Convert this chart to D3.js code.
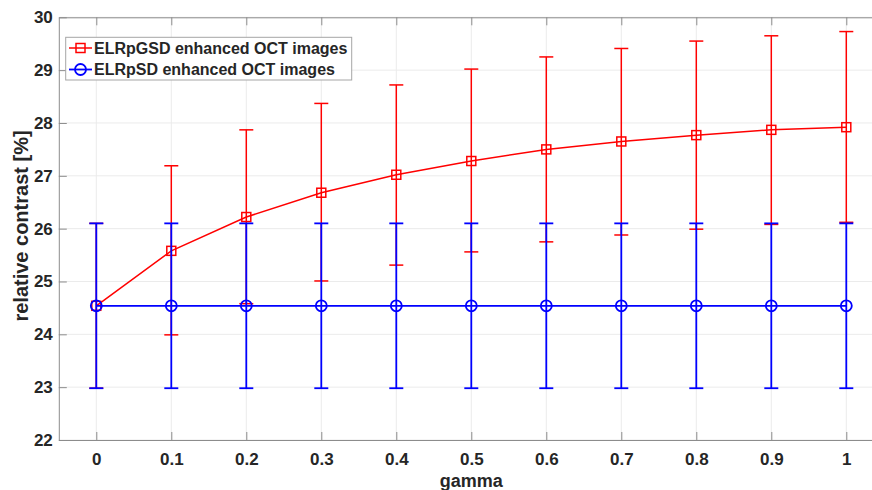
<!DOCTYPE html>
<html>
<head>
<meta charset="utf-8">
<script src="https://cdn.jsdelivr.net/npm/d3@7"></script>
<style>
  html, body { margin: 0; padding: 0; background: #fff; }
  svg text { font-family: "Liberation Sans", Arial, Helvetica, sans-serif; font-weight: bold; fill: #262626; }
</style>
</head>
<body>
<svg id="chart" width="872" height="490"></svg>
<script>
// gamma values along the x axis
const gammas = [0, 0.1, 0.2, 0.3, 0.4, 0.5, 0.6, 0.7, 0.8, 0.9, 1];
const xTickLabels = ["0", "0.1", "0.2", "0.3", "0.4", "0.5", "0.6", "0.7", "0.8", "0.9", "1"];
const yTicks = [22, 23, 24, 25, 26, 27, 28, 29, 30];

// ELRpGSD: mean relative contrast and error bar ends (%)
const gsdMean  = [24.54, 25.58, 26.22, 26.68, 27.02, 27.28, 27.50, 27.65, 27.77, 27.87, 27.92];
const gsdUpper = [26.10, 27.19, 27.87, 28.37, 28.72, 29.02, 29.25, 29.41, 29.55, 29.65, 29.73];
const gsdLower = [22.98, 23.99, 24.58, 25.01, 25.31, 25.56, 25.75, 25.88, 25.99, 26.08, 26.12];

// ELRpSD: mean relative contrast and error bar ends (%)
const sdMean  = [24.54, 24.54, 24.54, 24.54, 24.54, 24.54, 24.54, 24.54, 24.54, 24.54, 24.54];
const sdUpper = [26.10, 26.10, 26.10, 26.10, 26.10, 26.10, 26.10, 26.10, 26.10, 26.10, 26.10];
const sdLower = [22.98, 22.98, 22.98, 22.98, 22.98, 22.98, 22.98, 22.98, 22.98, 22.98, 22.98];

const seriesNames = ["ELRpGSD enhanced OCT images", "ELRpSD enhanced OCT images"];

const svg = d3.select("#chart");
const plotLeft = 58.8, plotRight = 883.8, plotTop = 17.3, plotBottom = 440;

const x = d3.scaleLinear().domain([-0.05, 1.05]).range([plotLeft, plotRight]);
const y = d3.scaleLinear().domain([22, 30]).range([plotBottom, plotTop]);

// grid
const grid = svg.append("g");
grid.selectAll("line.gx").data(gammas).enter().append("line")
  .attr("x1", d => x(d)).attr("x2", d => x(d))
  .attr("y1", plotTop).attr("y2", plotBottom)
  .attr("stroke", "#ebebeb").attr("stroke-width", 1);
grid.selectAll("line.gy").data(yTicks).enter().append("line")
  .attr("x1", plotLeft).attr("x2", plotRight)
  .attr("y1", d => y(d)).attr("y2", d => y(d))
  .attr("stroke", "#ebebeb").attr("stroke-width", 1);

// axes (ticks point inward)
const tickLen = 8;
const axisColor = "#8c8c8c";
const xAxisB = d3.axisBottom(x).tickValues(gammas).tickFormat((d, i) => xTickLabels[i]).tickSizeInner(-tickLen).tickSizeOuter(0).tickPadding(13);
const gxB = svg.append("g").attr("transform", `translate(0,${plotBottom})`).call(xAxisB);
const xAxisT = d3.axisTop(x).tickValues(gammas).tickFormat("").tickSizeInner(-tickLen).tickSizeOuter(0);
const gxT = svg.append("g").attr("transform", `translate(0,${plotTop})`).call(xAxisT);
const yAxisL = d3.axisLeft(y).tickValues(yTicks).tickFormat(d3.format("d")).tickSizeInner(-tickLen).tickSizeOuter(0).tickPadding(6);
const gyL = svg.append("g").attr("transform", `translate(${plotLeft},0)`).call(yAxisL);
[gxB, gxT, gyL].forEach(g => {
  g.attr("font-family", null).attr("font-size", null);
  g.select(".domain").attr("stroke", axisColor).attr("stroke-width", 1);
  g.selectAll(".tick line").attr("stroke", axisColor);
  g.selectAll(".tick text").attr("font-size", 17).attr("fill", "#262626");
});

// axis titles
svg.append("text").attr("x", x(0.5)).attr("y", 486.5)
  .attr("text-anchor", "middle").attr("font-size", 18).text("gamma");
svg.append("text").attr("transform", `translate(28,226) rotate(-90)`)
  .attr("text-anchor", "middle").attr("font-size", 20).text("relative contrast [%]");

// series drawing
function drawSeries(mean, upper, lower, color, width, marker) {
  const g = svg.append("g");
  const line = d3.line().x((d, i) => x(gammas[i])).y(d => y(d));
  g.append("path").datum(mean).attr("d", line)
    .attr("fill", "none").attr("stroke", color).attr("stroke-width", width);
  const cap = 7;
  gammas.forEach((gv, i) => {
    const cx = x(gv);
    g.append("line").attr("x1", cx).attr("x2", cx).attr("y1", y(upper[i])).attr("y2", y(lower[i]))
      .attr("stroke", color).attr("stroke-width", width);
    [upper[i], lower[i]].forEach(v => {
      g.append("line").attr("x1", cx - cap).attr("x2", cx + cap).attr("y1", y(v)).attr("y2", y(v))
        .attr("stroke", color).attr("stroke-width", width);
    });
  });
  gammas.forEach((gv, i) => marker(g, x(gv), y(mean[i]), color, width));
}
function square(g, cx, cy, color, width) {
  g.append("rect").attr("x", cx - 4.5).attr("y", cy - 4.5).attr("width", 9).attr("height", 9)
    .attr("fill", "none").attr("stroke", color).attr("stroke-width", width);
}
function circle(g, cx, cy, color, width) {
  g.append("circle").attr("cx", cx).attr("cy", cy).attr("r", 5.5)
    .attr("fill", "none").attr("stroke", color).attr("stroke-width", width);
}

drawSeries(gsdMean, gsdUpper, gsdLower, "#ff0000", 1.5, square);
drawSeries(sdMean, sdUpper, sdLower, "#0000ff", 1.8, circle);

// legend
const lg = svg.append("g");
lg.append("rect").attr("x", 65.7).attr("y", 37.3).attr("width", 286).attr("height", 42.7)
  .attr("fill", "#fff").attr("stroke", "#a6a6a6").attr("stroke-width", 1);
const legendRows = [
  { name: seriesNames[0], color: "#ff0000", width: 1.5, marker: square, cy: 48 },
  { name: seriesNames[1], color: "#0000ff", width: 1.8, marker: circle, cy: 69.5 }
];
legendRows.forEach(r => {
  lg.append("line").attr("x1", 69).attr("x2", 92).attr("y1", r.cy).attr("y2", r.cy)
    .attr("stroke", r.color).attr("stroke-width", r.width);
  r.marker(lg, 80.5, r.cy, r.color, r.width);
  lg.append("text").attr("x", 94).attr("y", r.cy + 5.5).attr("font-size", 16).text(r.name);
});
</script>
</body>
</html>
